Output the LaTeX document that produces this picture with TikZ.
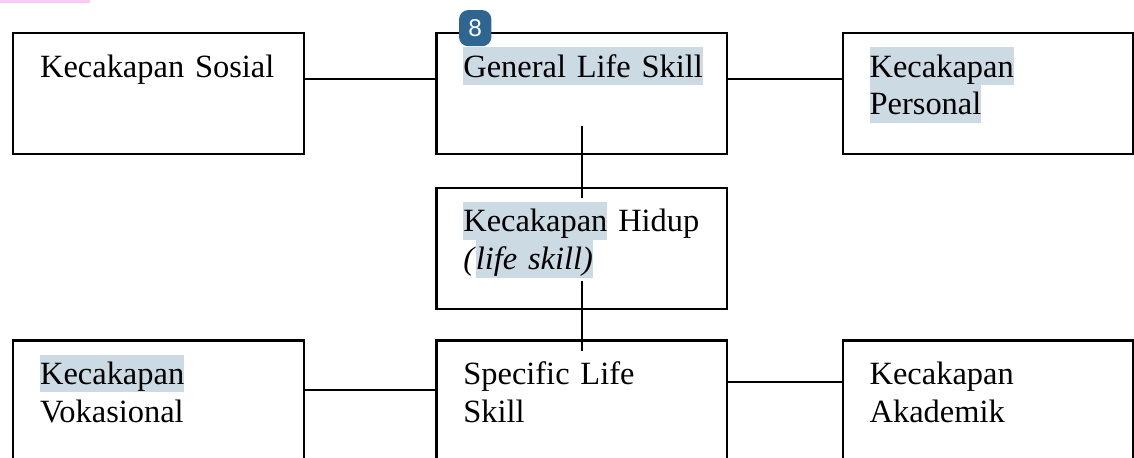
\documentclass[tikz,border=0pt]{standalone}
\usepackage{fontspec}
\setmainfont{Liberation Serif}
\newfontfamily\badgefont{Liberation Sans}
\usetikzlibrary{
  positioning,  % Function "of" (e.g. [right=of x])
}
\definecolor{selblue}{HTML}{CCDAE4}
\definecolor{badgeblue}{HTML}{2F6591}
\definecolor{stripink}{HTML}{F9CCF3}
% Selection highlight behind a word
\newcommand{\hl}[1]{{\setlength{\fboxsep}{0pt}\colorbox{selblue}{\rule[-3pt]{0pt}{14pt}#1}}}
\def\myboxw{3.78cm}
\def\myboxh{1.57cm}
\def\myhdista{1.69cm}
\def\myhdistb{1.47cm}
\tikzset{
  my box/.style={
    draw,
    line width=0.9pt,
    rectangle,
    minimum width=\myboxw,
    minimum height=\myboxh,
    text width=3.08cm,
    inner xsep=0.35cm,
    inner ysep=0mm,
    text height=0.57cm,
    text depth=1.0cm,
    align=left,
    font=\fontsize{12pt}{14pt}\selectfont
  },
  my link/.style={
    line width=0.75pt
  },
  my badge/.style={
    fill=badgeblue,
    text=white,
    rounded corners=1.2mm,
    minimum width=0.42cm,
    minimum height=0.47cm,
    inner sep=0mm,
    font=\badgefont\fontsize{9pt}{10pt}\selectfont
  }
}
\begin{document}
\begin{tikzpicture}
\path[use as bounding box,clip] (0,0) rectangle (14.742,-5.941);
\fill[stripink] (0,0) rectangle (1.17,-0.04);
\node[my box,anchor=north west] (sosial) at (0.156,-0.416) {Kecakapan Sosial};
\node[my box] (general)    [right=\myhdista of sosial]  {\hl{General Life Skill}};
\node[my box] (personal)   [right=\myhdistb of general] {\hl{Kecakapan}\\\hl{Personal}};
\node[my box] (hidup)      [below=0.41cm of general]    {\hl{Kecakapan} Hidup\\\textit{(}\hl{\textit{life skill)}}};
\node[my box] (specific)   [below=0.38cm of hidup]      {Specific Life\\Skill};
\node[my box] (vokasional) [left=\myhdista of specific] {\hl{Kecakapan}\\Vokasional};
\node[my box] (akademik)   [right=\myhdistb of specific]{Kecakapan\\Akademik};
\path[my link]
  ([yshift=0.19cm]sosial.east)      edge ([yshift=0.19cm]general.west)
  ([yshift=0.19cm]general.east)     edge ([yshift=0.19cm]personal.west)
  ([yshift=0.38cm]general.south)    edge ([yshift=-0.14cm]hidup.north)
  ([yshift=0.38cm]hidup.south)      edge ([yshift=-0.15cm]specific.north)
  ([yshift=0.14cm]vokasional.east)  edge ([yshift=0.14cm]specific.west)
  ([yshift=0.24cm]specific.east)    edge ([yshift=0.24cm]akademik.west);
\node[my badge] (badge) at ([xshift=0.52cm,yshift=0.05cm]general.north west) {8};
\end{tikzpicture}
\end{document}
